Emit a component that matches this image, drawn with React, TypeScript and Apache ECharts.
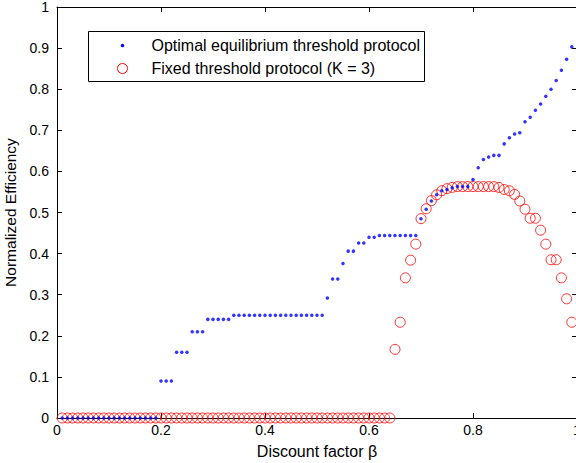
import React, { useEffect, useRef } from "react";
import * as echarts from "echarts";

const beta = [
  0.01, 0.02, 0.03, 0.04, 0.05, 0.06, 0.07, 0.08, 0.09, 0.1,
  0.11, 0.12, 0.13, 0.14, 0.15, 0.16, 0.17, 0.18, 0.19, 0.2,
  0.21, 0.22, 0.23, 0.24, 0.25, 0.26, 0.27, 0.28, 0.29, 0.3,
  0.31, 0.32, 0.33, 0.34, 0.35, 0.36, 0.37, 0.38, 0.39, 0.4,
  0.41, 0.42, 0.43, 0.44, 0.45, 0.46, 0.47, 0.48, 0.49, 0.5,
  0.51, 0.52, 0.53, 0.54, 0.55, 0.56, 0.57, 0.58, 0.59, 0.6,
  0.61, 0.62, 0.63, 0.64, 0.65, 0.66, 0.67, 0.68, 0.69, 0.7,
  0.71, 0.72, 0.73, 0.74, 0.75, 0.76, 0.77, 0.78, 0.79, 0.8,
  0.81, 0.82, 0.83, 0.84, 0.85, 0.86, 0.87, 0.88, 0.89, 0.9,
  0.91, 0.92, 0.93, 0.94, 0.95, 0.96, 0.97, 0.98, 0.99,
];

const optimal = [
  0, 0, 0, 0, 0, 0, 0, 0, 0, 0,
  0, 0, 0, 0, 0, 0, 0, 0, 0, 0.09,
  0.09, 0.09, 0.16, 0.16, 0.16, 0.21, 0.21, 0.21, 0.24, 0.24,
  0.24, 0.24, 0.24, 0.25, 0.25, 0.25, 0.25, 0.25, 0.25, 0.25,
  0.25, 0.25, 0.25, 0.25, 0.25, 0.25, 0.25, 0.25, 0.25, 0.25,
  0.25, 0.292, 0.338, 0.338, 0.376, 0.406, 0.406, 0.426, 0.426, 0.44,
  0.44, 0.444, 0.444, 0.444, 0.444, 0.444, 0.444, 0.444, 0.444, 0.485,
  0.508, 0.528, 0.543, 0.553, 0.556, 0.56, 0.563, 0.563, 0.563, 0.58,
  0.609, 0.629, 0.635, 0.639, 0.639, 0.667, 0.682, 0.691, 0.694, 0.721,
  0.732, 0.749, 0.764, 0.783, 0.8, 0.821, 0.846, 0.873, 0.903,
];

const fixedK3 = [
  0, 0, 0, 0, 0, 0, 0, 0, 0, 0,
  0, 0, 0, 0, 0, 0, 0, 0, 0, 0,
  0, 0, 0, 0, 0, 0, 0, 0, 0, 0,
  0, 0, 0, 0, 0, 0, 0, 0, 0, 0,
  0, 0, 0, 0, 0, 0, 0, 0, 0, 0,
  0, 0, 0, 0, 0, 0, 0, 0, 0, 0,
  0, 0, 0, 0, 0.167, 0.233, 0.341, 0.384, 0.423, 0.485,
  0.509, 0.529, 0.543, 0.553, 0.558, 0.561, 0.563, 0.563, 0.563, 0.563,
  0.563, 0.563, 0.563, 0.563, 0.561, 0.556, 0.553, 0.544, 0.528, 0.508,
  0.486, 0.486, 0.457, 0.423, 0.385, 0.385, 0.341, 0.29, 0.233,
];

const xTicks = [0, 0.2, 0.4, 0.6, 0.8, 1];
const yTicks = [0, 0.1, 0.2, 0.3, 0.4, 0.5, 0.6, 0.7, 0.8, 0.9, 1];
const seriesNames = ["Optimal equilibrium threshold protocol", "Fixed threshold protocol (K = 3)"];

const FONT = "'Liberation Sans', Arial, Helvetica, sans-serif";

export default function App() {
  const ref = useRef<HTMLDivElement>(null);
  useEffect(() => {
    if (!ref.current) return;
    const chart = echarts.init(ref.current, null, { renderer: "svg" });
    const axisCommon = {
      axisLine: { show: true, onZero: false, lineStyle: { color: "#000", width: 1 } },
      axisTick: { show: true, inside: true, length: 5, lineStyle: { color: "#000" } },
      splitLine: { show: false },
    };
    chart.setOption({
      animation: false,
      backgroundColor: "#fff",
      textStyle: { fontFamily: FONT },
      grid: {
        left: 57,
        right: -1,
        top: 7,
        bottom: 45,
        containLabel: false,
        outerBoundsMode: "none",
      },
      xAxis: [
        {
          type: "value",
          min: 0,
          max: 1,
          interval: 0.2,
          position: "bottom",
          name: "Discount factor β",
          nameLocation: "middle",
          nameGap: 25,
          nameTextStyle: { color: "#000", fontSize: 16, fontFamily: FONT },
          ...axisCommon,
          axisLabel: {
            color: "#000",
            fontSize: 14,
            fontFamily: FONT,
            margin: 5,
            showMaxLabel: true,
            formatter: (v: number) => {
              const r = Math.round(v * 10) / 10;
              return xTicks.includes(r) ? String(r) : "";
            },
          },
        },
        {
          type: "value",
          min: 0,
          max: 1,
          interval: 0.2,
          position: "top",
          ...axisCommon,
          axisLabel: { show: false },
        },
      ],
      yAxis: [
        {
          type: "value",
          min: 0,
          max: 1,
          interval: 0.1,
          position: "left",
          name: "Normalized Efficiency",
          nameLocation: "middle",
          nameGap: 36,
          nameTextStyle: { color: "#000", fontSize: 15.5, fontFamily: FONT },
          ...axisCommon,
          axisLabel: {
            color: "#000",
            fontSize: 14,
            fontFamily: FONT,
            margin: 8,
            formatter: (v: number) => {
              const r = Math.round(v * 10) / 10;
              return yTicks.includes(r) ? String(r) : "";
            },
          },
        },
        {
          type: "value",
          min: 0,
          max: 1,
          interval: 0.1,
          position: "right",
          ...axisCommon,
          axisLabel: { show: false },
        },
      ],
      series: [
        {
          name: seriesNames[1],
          type: "scatter",
          clip: false,
          symbol: "circle",
          symbolSize: 10,
          itemStyle: { color: "rgba(0,0,0,0)", borderColor: "#ff0000", borderWidth: 1 },
          data: beta.map((b, i) => [b, fixedK3[i]]),
          z: 2,
        },
        {
          name: seriesNames[0],
          type: "scatter",
          clip: false,
          symbol: "circle",
          symbolSize: 3.5,
          itemStyle: { color: "#0000ff" },
          data: beta.map((b, i) => [b, optimal[i]]),
          z: 3,
        },
      ],
      graphic: [
        {
          type: "group",
          left: 88,
          top: 31,
          z: 100,
          children: [
            {
              type: "rect",
              shape: { x: 0, y: 0, width: 336, height: 50 },
              style: { fill: "#fff", stroke: "#000", lineWidth: 1 },
            },
            {
              type: "circle",
              shape: { cx: 34, cy: 14, r: 1.75 },
              style: { fill: "#0000ff" },
            },
            {
              type: "circle",
              shape: { cx: 34, cy: 37, r: 5 },
              style: { fill: "none", stroke: "#ff0000", lineWidth: 1 },
            },
            {
              type: "text",
              x: 63,
              y: 14,
              style: {
                text: seriesNames[0],
                fontSize: 16,
                fontFamily: FONT,
                fill: "#000",
                verticalAlign: "middle",
                align: "left",
              },
            },
            {
              type: "text",
              x: 63,
              y: 37,
              style: {
                text: seriesNames[1],
                fontSize: 16,
                fontFamily: FONT,
                fill: "#000",
                verticalAlign: "middle",
                align: "left",
              },
            },
          ],
        },
      ],
    });
    return () => chart.dispose();
  }, []);
  return (
    <div
      ref={ref}
      style={{ position: "absolute", left: 0, top: 0, width: 576, height: 463, background: "#fff" }}
    />
  );
}
